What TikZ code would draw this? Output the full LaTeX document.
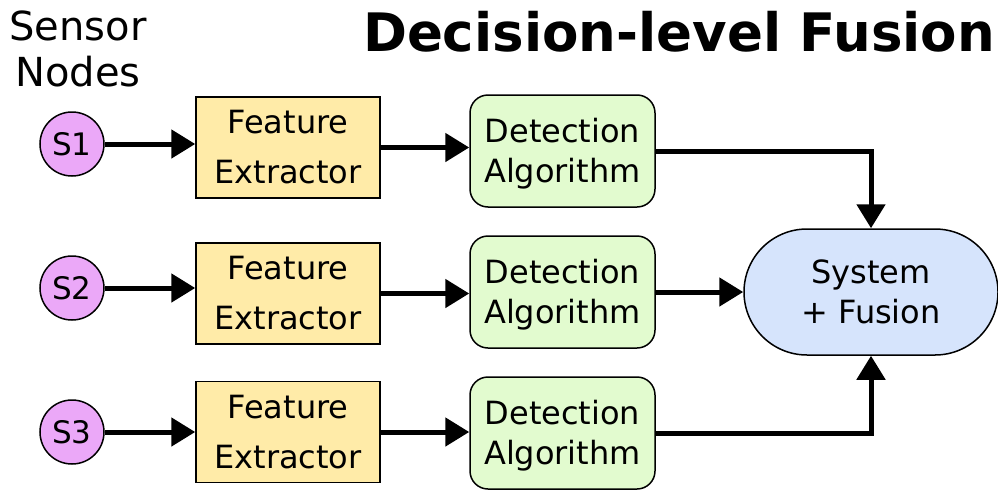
\documentclass[tikz,border=0pt]{standalone}
\usepackage{fontspec}
\setmainfont{DejaVu Sans}
\usetikzlibrary{arrows.meta,shapes.misc}
\definecolor{sensorfill}{HTML}{EBA8F8}
\definecolor{featfill}{HTML}{FFEBA8}
\definecolor{detfill}{HTML}{E2FBCF}
\definecolor{fusfill}{HTML}{D6E4FC}
\tikzset{
  sensor/.style={circle,draw=black,line width=1.5pt,fill=sensorfill,minimum size=64pt,inner sep=0pt,font=\fontsize{31}{36}\selectfont},
  featbox/.style={rectangle,draw=black,line width=1.5pt,fill=featfill,minimum width=184pt,minimum height=101pt,inner sep=0pt,align=center,font=\fontsize{32}{50}\selectfont},
  detbox/.style={rectangle,rounded corners=18pt,draw=black,line width=1.5pt,fill=detfill,minimum width=185pt,minimum height=112pt,inner sep=0pt,align=center,text depth=1.5pt,font=\fontsize{32}{40}\selectfont},
  fusbox/.style={rounded rectangle,draw=black,line width=1.5pt,fill=fusfill,minimum width=254pt,minimum height=126pt,inner sep=0pt,align=center,font=\fontsize{32}{40}\selectfont},
  conn/.style={line width=5pt,-{Triangle[length=24pt,width=28pt]}},
}
\begin{document}
\begin{tikzpicture}[x=1pt,y=-1pt]
\useasboundingbox (0,0) rectangle (998,490);
\node[anchor=base,font=\fontsize{40}{46}\selectfont,align=center] (lab) at (78,86) {Sensor\\Nodes};
\node[anchor=base east,font=\bfseries\fontsize{53}{60}\selectfont,inner sep=0pt] (title) at (995,51) {Decision-level Fusion};
\foreach \i/\y/\fy/\dy in {1/144/147.5/151, 2/288/293.5/292, 3/432/432/433}{
  \node[sensor] (S\i) at (72,\y) {S\i};
  \node[featbox] (FE\i) at (288,\fy) {Feature\\Extractor};
  \node[detbox] (DA\i) at (562.5,\dy) {Detection\\Algorithm};
}
\node[fusbox] (SF) at (871,292) {System\\+ Fusion};
\foreach \i in {1,2,3}{
  \draw[conn] (S\i.east) -- (S\i.east -| FE\i.west);
  \draw[conn] (FE\i.east) -- (FE\i.east -| DA\i.west);
}
\draw[conn] (DA1.east) -| (SF.north);
\draw[conn] (DA2.east) -- (SF.west);
\draw[conn] (DA3.east) -| (SF.south);
\end{tikzpicture}
\end{document}
